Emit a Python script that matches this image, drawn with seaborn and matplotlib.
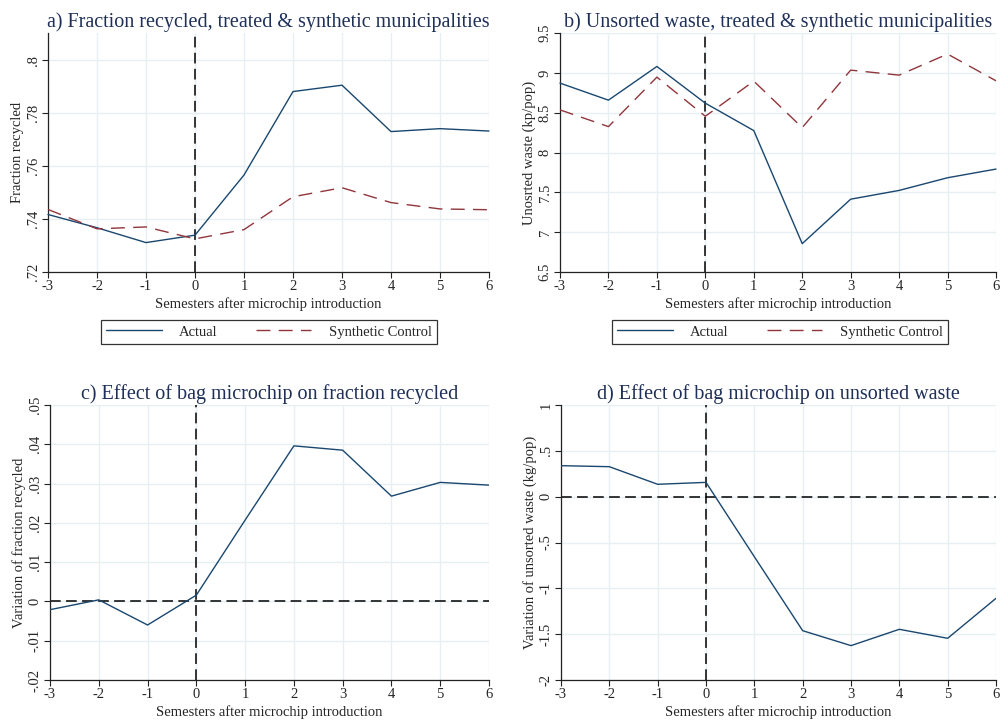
import matplotlib
matplotlib.use("Agg")
import matplotlib.pyplot as plt
from matplotlib.lines import Line2D
import seaborn as sns
import pandas as pd

# semesters after microchip introduction
semesters = [-3, -2, -1, 0, 1, 2, 3, 4, 5, 6]

# a) fraction recycled
frac_actual = [0.7417, 0.7367, 0.7311, 0.7339, 0.7566, 0.7881, 0.7905, 0.7730, 0.7741, 0.7732]
frac_synth = [0.7436, 0.7363, 0.7370, 0.7325, 0.7360, 0.7484, 0.7518, 0.7462, 0.7438, 0.7435]

# b) unsorted waste
waste_actual = [8.871, 8.657, 9.080, 8.619, 8.275, 6.856, 7.414, 7.524, 7.683, 7.792]
waste_synth = [8.535, 8.325, 8.946, 8.455, 8.896, 8.312, 9.034, 8.971, 9.236, 8.900]

# c) effect on fraction recycled
frac_effect = [-0.0021, 0.0004, -0.0060, 0.0016, 0.0207, 0.0396, 0.0385, 0.0268, 0.0303, 0.0296]

# d) effect on unsorted waste
waste_effect = [0.338, 0.327, 0.135, 0.156, -0.655, -1.462, -1.625, -1.447, -1.545, -1.109]

# tick values / labels (Stata style)
a_ticks = [0.72, 0.74, 0.76, 0.78, 0.80]
a_labels = [".72", ".74", ".76", ".78", ".8"]
b_ticks = [6.5, 7, 7.5, 8, 8.5, 9, 9.5]
b_labels = ["6.5", "7", "7.5", "8", "8.5", "9", "9.5"]
c_ticks = [-0.02, -0.01, 0, 0.01, 0.02, 0.03, 0.04, 0.05]
c_labels = ["-.02", "-.01", "0", ".01", ".02", ".03", ".04", ".05"]
d_ticks = [-2, -1.5, -1, -0.5, 0, 0.5, 1]
d_labels = ["-2", "-1.5", "-1", "-.5", "0", ".5", "1"]

NAVY = "#1a476f"
MAROON = "#90353b"
GRID = "#e6eff1"
TITLE = "#1e2f58"

sns.set_theme(style="white")
plt.rcParams["font.family"] = ["Liberation Serif", "DejaVu Serif"]

W, H = 1001, 720
fig = plt.figure(figsize=(W / 100, H / 100), dpi=100)
fig.patch.set_facecolor("white")


def make_ax(left, right, top, bottom):
    return fig.add_axes([left / W, 1 - bottom / H, (right - left) / W, (bottom - top) / H])


def style(ax, title, ylabel, yticks, ylabels, ylim):
    ax.set_xlim(-3, 6)
    ax.set_ylim(*ylim)
    ax.set_xticks(semesters)
    ax.set_xticklabels([str(s) for s in semesters], fontsize=10.5)
    ax.set_yticks(yticks)
    ax.set_yticklabels(ylabels, fontsize=10.5, rotation=90, va="center")
    ax.grid(True, color=GRID, linewidth=1.0)
    ax.set_axisbelow(True)
    for side in ["top", "right"]:
        ax.spines[side].set_visible(False)
    for side in ["left", "bottom"]:
        ax.spines[side].set_color("#222222")
        ax.spines[side].set_linewidth(0.9)
    ax.tick_params(axis="both", direction="out", length=4, width=0.8, color="#222222",
                   left=True, bottom=True, pad=2)
    ax.set_xlabel("Semesters after microchip introduction", fontsize=10.5, labelpad=2.5)
    ax.set_ylabel(ylabel, fontsize=10.5, labelpad=2)
    ax.set_title(title, fontsize=14.5, color=TITLE, pad=4)
    ax.axvline(0, color="black", linewidth=1.1, dashes=(7, 3.5), zorder=1.5)


ax_a = make_ax(48, 489, 33, 272)
ax_b = make_ax(560, 996, 33, 272)
ax_c = make_ax(50, 489, 405, 680)
ax_d = make_ax(561, 996, 405, 680)

df_a = pd.DataFrame({"semester": semesters * 2,
                     "value": frac_actual + frac_synth,
                     "series": ["Actual"] * 10 + ["Synthetic Control"] * 10})
df_b = pd.DataFrame({"semester": semesters * 2,
                     "value": waste_actual + waste_synth,
                     "series": ["Actual"] * 10 + ["Synthetic Control"] * 10})

for ax, df in [(ax_a, df_a), (ax_b, df_b)]:
    sns.lineplot(data=df, x="semester", y="value", hue="series", style="series",
                 palette={"Actual": NAVY, "Synthetic Control": MAROON},
                 dashes={"Actual": "", "Synthetic Control": (10, 6)},
                 linewidth=1.0, ax=ax, legend=False, zorder=3, clip_on=False)

sns.lineplot(x=semesters, y=frac_effect, color=NAVY, linewidth=1.0, ax=ax_c, zorder=3)
sns.lineplot(x=semesters, y=waste_effect, color=NAVY, linewidth=1.0, ax=ax_d, zorder=3)

style(ax_a, "a) Fraction recycled, treated & synthetic municipalities", "Fraction recycled",
      a_ticks, a_labels, (0.72, 0.8102))
style(ax_b, "b) Unsorted waste, treated & synthetic municipalities", "Unosrted waste (kp/pop)",
      b_ticks, b_labels, (6.5, 9.5))
style(ax_c, "c) Effect of bag microchip on fraction recycled", "Variation of fraction recycled",
      c_ticks, c_labels, (-0.02, 0.05))
style(ax_d, "d) Effect of bag microchip on unsorted waste", "Variation of unsorted waste (kg/pop)",
      d_ticks, d_labels, (-2, 1))

for ax in [ax_c, ax_d]:
    ax.axhline(0, color="black", linewidth=1.1, dashes=(7, 3.5), zorder=1.5)

# legends under top panels
handles = [Line2D([], [], color=NAVY, linewidth=1.0),
           Line2D([], [], color=MAROON, linewidth=1.0, dashes=(10, 6))]
for cx in [269, 780]:
    leg = fig.legend(handles, ["Actual", "Synthetic Control"], loc="center",
                     bbox_to_anchor=(cx / W, 1 - 332 / H), ncol=2, fontsize=10.5,
                     frameon=True, fancybox=False, edgecolor="black",
                     handlelength=3.8, handletextpad=1.2, columnspacing=2.6,
                     borderpad=0.35, borderaxespad=0)
    leg.get_frame().set_linewidth(0.9)

fig.savefig("out.png", dpi=100, facecolor="white")
